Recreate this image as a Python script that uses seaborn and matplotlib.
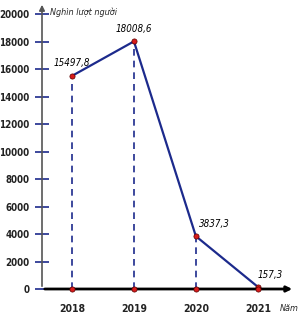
import matplotlib
matplotlib.use("Agg")
import matplotlib.pyplot as plt
import seaborn as sns
import pandas as pd

years = [2018, 2019, 2020, 2021]
visitors = [15497.8, 18008.6, 3837.3, 157.3]
value_labels = ["15497,8", "18008,6", "3837,3", "157,3"]
y_ticks = [0, 2000, 4000, 6000, 8000, 10000, 12000, 14000, 16000, 18000, 20000]

df = pd.DataFrame({"year": years, "visitors": visitors})

sns.set_style("white")
plt.rcParams['font.family'] = ['DejaVu Sans']
plt.rcParams['font.stretch'] = 'condensed'

navy = "#1c2a8c"
fig = plt.figure(figsize=(2.99, 3.21), dpi=100)
ax = fig.add_axes([42 / 299, 32 / 321, 253 / 299, 287 / 321])
ax.set_xlim(2017.516, 2021.6)
ax.set_ylim(0, 20873)

# dashed drop lines
for x, y in zip(years, visitors):
    ax.plot([x, x], [0, y], ls=(0, (4, 3)), color=navy, lw=1.2, zorder=1)

sns.lineplot(data=df, x="year", y="visitors", color=navy, lw=1.6, ax=ax, zorder=2)
ax.scatter(years, visitors, s=14, color="#d81b1b", edgecolor="#5a0000", lw=0.5, zorder=3)
ax.scatter(years, [0] * 4, s=14, color="#d81b1b", edgecolor="#5a0000", lw=0.5, zorder=5, clip_on=False)

# value labels
offsets = [(0, 6), (0, 5), (13, 5), (9, 5)]
for x, y, lab, (dx, dy) in zip(years, visitors, value_labels, offsets):
    ax.annotate(lab, (x, y), xytext=(dx, dy), textcoords="offset points",
                ha="center", va="bottom", fontsize=7, style="italic", color="black")

for s in ax.spines.values():
    s.set_visible(False)

# axes arrows
ax.annotate("", xy=(2021.6, 0), xytext=(2017.516, 0),
            arrowprops=dict(arrowstyle="-|>", color="black", lw=2, mutation_scale=8),
            annotation_clip=False, zorder=4)
ax.annotate("", xy=(2017.516, 20873), xytext=(2017.516, 0),
            arrowprops=dict(arrowstyle="-|>", color="#555555", lw=1.2, mutation_scale=8),
            annotation_clip=False, zorder=4)

ax.set_yticks(y_ticks)
ax.set_yticklabels([str(v) for v in y_ticks], fontsize=7, fontweight="bold", color="#222222")
ax.set_xticks(years)
ax.set_xticklabels([str(y) for y in years], fontsize=7.5, fontweight="bold", color="#222222")
ax.tick_params(axis="y", direction="inout", length=10, width=1.2, color=navy, pad=4, left=True)
ax.tick_params(axis="x", length=0, pad=11)
ax.set_xlabel("")
ax.set_ylabel("")

ax.text(2017.65, 20150, "Nghìn lượt người", fontsize=6.5, style="italic", va="center", ha="left")
ax.text(2021.36, -1400, "Năm", fontsize=6.5, style="italic", va="center", ha="left")

fig.savefig("out.png", dpi=100)
